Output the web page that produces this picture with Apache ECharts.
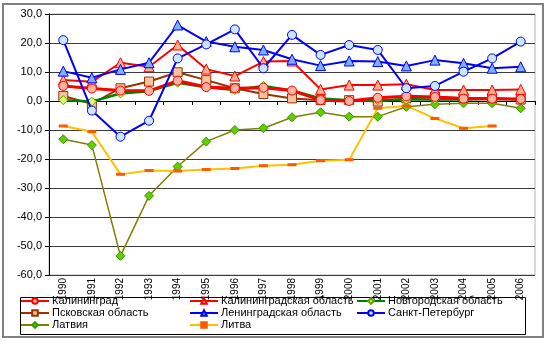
<!DOCTYPE html>
<html>
<head>
<meta charset="utf-8">
<script src="https://cdn.jsdelivr.net/npm/echarts@6/dist/echarts.min.js"></script>
<style>
  html, body { margin: 0; padding: 0; background: #fff; }
  #chart { width: 550px; height: 344px; }
</style>
</head>
<body>
<div id="chart"></div>
<script>
// Years on the category axis
const years = ['1990','1991','1992','1993','1994','1995','1996','1997','1998','1999',
               '2000','2001','2002','2003','2004','2005','2006'];

// Y axis range and step
const yMin = -60, yMax = 30, yStep = 10;

// Series values (per cent)
const kaliningrad       = [5.2, 4.3, 3.6, 3.5, 7.0, 4.8, 4.4, 4.6, 3.6, 0.3, 0.0, 1.1, 1.6, 1.4, 0.8, 0.8, 0.7];
const kaliningradObl    = [7.2, 6.6, 13.2, 11.8, 19.3, 11.0, 8.6, 13.6, 13.8, 4.0, 5.5, 5.5, 5.8, 3.8, 3.8, 3.8, 4.0];
const novgorodObl       = [0.3, -0.2, 2.6, 3.4, 6.3, 4.7, 3.8, 5.2, 3.6, 0.9, 0.3, 0.3, 0.5, 0.5, 0.5, 0.8, 0.5];
const pskovObl          = [1.7, -1.0, 4.4, 6.7, 9.9, 7.2, 4.4, 2.4, 0.9, 0.3, 0.3, -0.2, 0.9, 1.5, 1.0, 1.0, 0.5];
const leningradObl      = [10.3, 8.0, 10.9, 13.2, 26.2, 20.5, 18.7, 17.6, 14.4, 12.2, 13.8, 13.6, 12.1, 14.1, 13.0, 11.3, 11.8];
const stPetersburg      = [21.0, -3.3, -12.3, -6.8, 14.7, 19.5, 24.7, 11.3, 22.8, 15.9, 19.3, 17.6, 4.4, 5.2, 10.1, 14.7, 20.5];
const latvia            = [-13.2, -15.2, -53.4, -32.7, -22.6, -14.0, -10.0, -9.4, -5.6, -3.9, -5.4, -5.4, -2.0, -1.1, -0.8, -0.8, -2.5];
const lithuania         = [-8.6, -10.6, -25.3, -24.0, -24.1, -23.6, -23.3, -22.3, -22.0, -20.6, -20.3, -2.5, -1.7, -6.0, -9.4, -8.6, null];

// Series names (legend order)
const names = ['Калининград', 'Калининградская область', 'Новгородская область',
               'Псковская область', 'Ленинградская область', 'Санкт-Петербург',
               'Латвия', 'Литва'];

const FONT = '"Liberation Sans", Arial, sans-serif';

function lineSeries(name, data, lineColor, lineWidth, symbol, size, fill, border, z) {
  return {
    name: name,
    type: 'line',
    data: data,
    z: z,
    symbol: symbol,
    symbolSize: size,
    showSymbol: true,
    connectNulls: false,
    lineStyle: { color: lineColor, width: lineWidth },
    itemStyle: { color: fill, borderColor: border, borderWidth: 1 },
    emphasis: { disabled: true },
    animation: false
  };
}

const series = [
  lineSeries(names[6], latvia,         '#808000', 1.5, 'diamond',  9, '#66CC00', '#339900', 2),
  lineSeries(names[7], lithuania,      '#FFC000', 2,   'rect',     [6, 2], '#FF5A00', '#FF5A00', 2),
  lineSeries(names[3], pskovObl,       '#993300', 2,   'rect',     9, '#F9C3A2', '#993300', 3),
  lineSeries(names[2], novgorodObl,    '#008000', 2.5, 'diamond',  9, '#D5FF66', '#66A000', 4),
  lineSeries(names[1], kaliningradObl, '#FF0000', 2,   'triangle', 10, '#FFAF8C', '#FF0000', 5),
  lineSeries(names[0], kaliningrad,    '#FF0000', 3,   'circle',   9, '#FFB3A0', '#FF0000', 5),
  lineSeries(names[4], leningradObl,   '#0000FF', 2,   'triangle', 10, '#7FAFFF', '#0000FF', 6),
  lineSeries(names[5], stPetersburg,   '#0000FF', 2,   'circle',   9, '#CCE6FF', '#0000FF', 7)
];

function legendColumn(left, items) {
  return {
    orient: 'vertical',
    left: left,
    top: 295,
    itemWidth: 28,
    itemHeight: 7,
    itemGap: 0,
    padding: 0,
    selectedMode: false,
    data: items,
    textStyle: { fontFamily: FONT, fontSize: 11, color: '#000', lineHeight: 12, padding: [0, 0, 0, -2] }
  };
}

const chart = echarts.init(document.getElementById('chart'), null, { renderer: 'canvas' });
chart.setOption({
  animation: false,
  backgroundColor: '#fff',
  grid: { left: 49, right: 15, top: 14, bottom: 69, show: true, borderColor: '#B4B4B4', borderWidth: 1 },
  legend: [
    legendColumn(20,  [names[0], names[3], names[6]]),
    legendColumn(189, [names[1], names[4], names[7]]),
    legendColumn(356, [names[2], names[5]])
  ],
  xAxis: {
    type: 'category',
    data: years,
    boundaryGap: true,
    axisLine: { onZero: true, lineStyle: { color: '#000', width: 1 } },
    axisTick: { show: true, length: 4, lineStyle: { color: '#000' } },
    axisLabel: { rotate: 90, interval: 0, fontFamily: FONT, fontSize: 10, color: '#000', margin: 3 },
    splitLine: { show: false }
  },
  yAxis: {
    type: 'value',
    min: yMin, max: yMax, interval: yStep,
    axisLine: { show: true, lineStyle: { color: '#000', width: 1 } },
    axisTick: { show: true, length: 4, lineStyle: { color: '#000' } },
    axisLabel: {
      fontFamily: FONT, fontSize: 11, color: '#000', margin: 7,
      formatter: v => v.toFixed(1).replace('.', ',')
    },
    splitLine: { show: true, lineStyle: { color: '#3C3C3C', width: 1 } }
  },
  graphic: [
    // chart area frame
    { type: 'rect', shape: { x: 3, y: 4, width: 540, height: 333 }, silent: true,
      style: { fill: null, stroke: '#808080', lineWidth: 2 }, z: -1 },
    // legend frame
    { type: 'rect', shape: { x: 20.5, y: 297.5, width: 505, height: 37 }, silent: true,
      style: { fill: null, stroke: '#000', lineWidth: 1 }, z: -1 }
  ],
  series: series
});
</script>
</body>
</html>
